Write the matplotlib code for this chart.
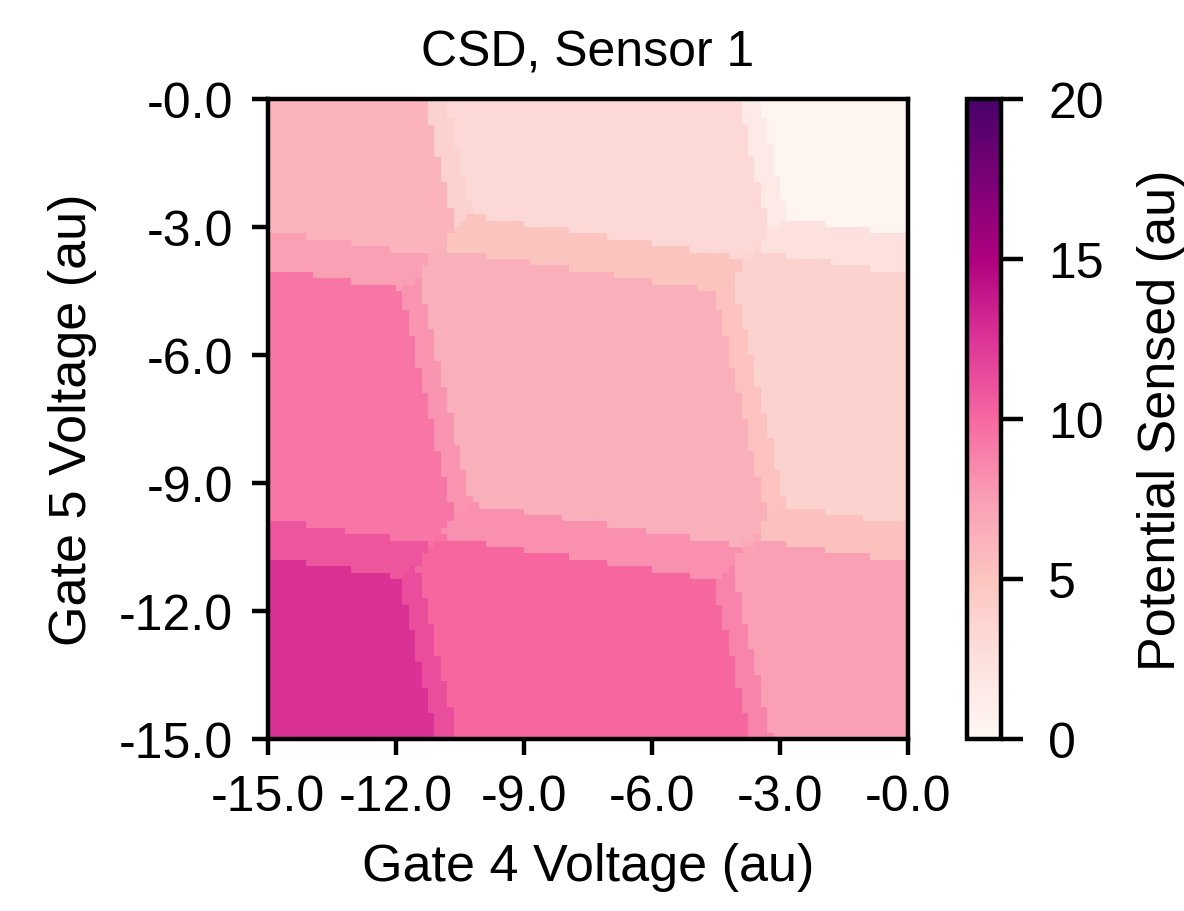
import numpy as np
import matplotlib
matplotlib.use('Agg')
import matplotlib.pyplot as plt

plt.rcParams['font.family'] = ['Liberation Sans', 'DejaVu Sans']
plt.rcParams['font.size'] = 9

# Varredura das tensões (gate 4 -> x, gate 5 -> y)
v_ini, v_fim, n_pts = -15.0, 0.0, 100

# Linhas de transição lidas da figura
# gate 4: posições em u = V4 + incl_g4*V5 ; gate 5: posições em v = V5 + incl_g5*V4
niveis_g4 = [-14.55, -14.06, -7.12, -6.62]
niveis_g5 = [-13.10, -12.20, -6.27, -5.375]
incl_g4 = 0.23
incl_g5 = 0.155
acoplamento = 0.8
escala_g5 = 1.45

# Sinal do sensor em cada estado de carga, linhas = N5 (baixo -> cima), colunas = N4 (esq -> dir)
sinal = np.array([
    [12.6, 11.3, 10.0, 8.7, 7.4],
    [10.9, 9.6, 8.2, 6.9, 5.3],
    [9.3, 8.0, 6.4, 5.2, 3.8],
    [7.4, 6.3, 5.0, 3.6, 2.4],
    [6.1, 3.8, 3.1, 1.5, 0.3],
])

xt = [-15, -12, -9, -6, -3, 0]
xt_labels = ['-15.0', '-12.0', '-9.0', '-6.0', '-3.0', '-0.0']
cb_ticks = [0, 5, 10, 15, 20]

# Estado fundamental em cada ponto do mapa
V4, V5 = np.meshgrid(np.linspace(v_ini, v_fim, n_pts), np.linspace(v_ini, v_fim, n_pts))
u = V4 + incl_g4 * V5
v = V5 + incl_g5 * V4
cumP = np.concatenate([[0], np.cumsum(niveis_g4)])
cumQ = np.concatenate([[0], np.cumsum(niveis_g5)])

E_min = np.full(V4.shape, np.inf)
mapa = np.zeros(V4.shape)
for n4 in range(5):
    for n5 in range(5):
        E = cumP[n4] - n4 * u + escala_g5 * (cumQ[n5] - n5 * v) + acoplamento * n4 * n5
        menor = E < E_min
        E_min[menor] = E[menor]
        mapa[menor] = sinal[n5, n4]

fig = plt.figure(figsize=(2.96, 2.28), dpi=400)
ax = fig.add_axes([268/1184, 1 - 740/912, 640/1184, 640/912])
im = ax.imshow(mapa, origin='lower', extent=[v_ini, v_fim, v_ini, v_fim],
               cmap='RdPu', vmin=0, vmax=20, aspect='auto')
ax.set_xticks(xt)
ax.set_xticklabels(xt_labels)
ax.set_yticks(xt)
ax.set_yticklabels(xt_labels)
ax.tick_params(length=2.8)
ax.set_xlabel('Gate 4 Voltage (au)', fontsize=9.4)
ax.set_ylabel('Gate 5 Voltage (au)', fontsize=9.4)
ax.set_title('CSD, Sensor 1', fontsize=9, pad=6)

cax = fig.add_axes([967/1184, 1 - 740/912, 34/1184, 640/912])
cb = fig.colorbar(im, cax=cax, ticks=cb_ticks)
cb.ax.tick_params(length=4, pad=4.5)
cb.set_label('Potential Sensed (au)', fontsize=9.4, labelpad=6)

fig.savefig('out.png', dpi=400)
